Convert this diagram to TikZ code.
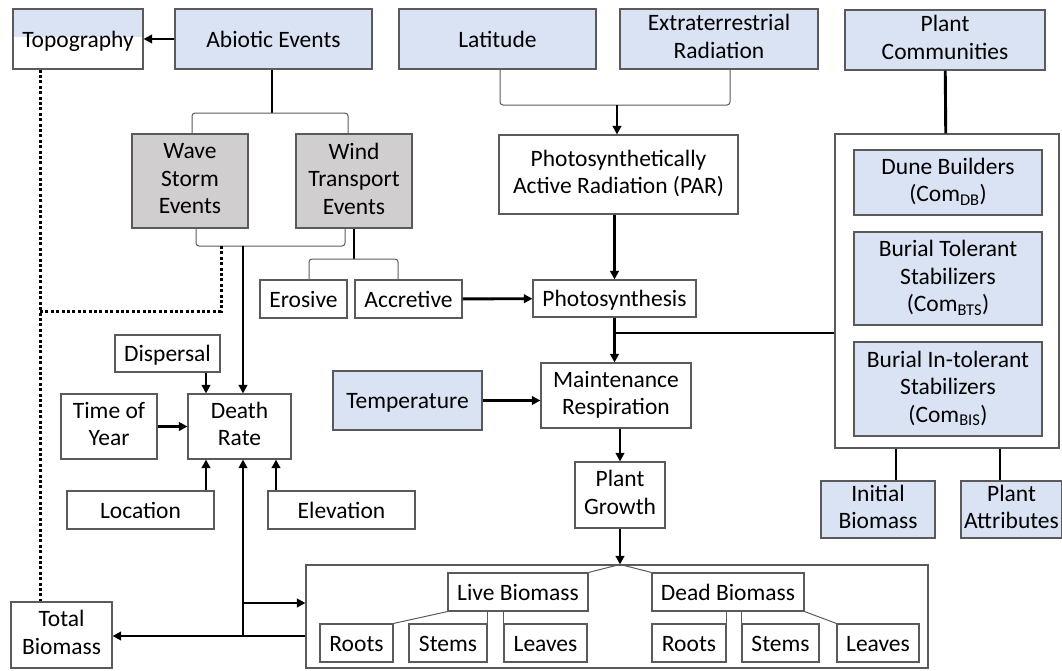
\documentclass[tikz,border=0pt]{standalone}
\usepackage{fontspec}
\setmainfont{Carlito}
\usetikzlibrary{arrows.meta}
\definecolor{boxblue}{HTML}{DAE3F3}
\definecolor{boxgray}{HTML}{D0CECE}
\definecolor{edge}{HTML}{5A5A5A}
\newcommand\bstrut{\rule[-5pt]{0pt}{26pt}}
\tikzset{
  box/.style={draw=edge, line width=1.1pt, align=center, inner sep=0pt,
    font=\fontsize{23.5}{27.5}\selectfont,
    execute at begin node=\bstrut, execute at end node=\bstrut},
  bluebox/.style={box, fill=boxblue},
  graybox/.style={box, fill=boxgray},
  link/.style={line width=2.9pt},
  arr/.style={line width=2.9pt, ->},
  thinl/.style={draw=edge, line width=1pt, rounded corners=3pt},
  dots/.style={line width=3pt, dash pattern=on 3pt off 2.4pt},
  >={Triangle[length=8.5pt,width=8.5pt]}
}
\begin{document}
\begin{tikzpicture}[x=1pt,y=-1pt]
\useasboundingbox (0,0) rectangle (1062,670);
\fill[boxblue] (13,9) rectangle (143,37);
\node[box, minimum width=130, minimum height=60] (topo) at (78,39) {Topography};
\node[bluebox, minimum width=197, minimum height=60] (abio) at (273.5,39) {Abiotic Events};
\node[bluebox, minimum width=197, minimum height=60] (lat) at (497.5,39) {Latitude};
\node[bluebox, minimum width=198, minimum height=60] (extra) at (719,39) {Extraterrestrial\\Radiation};
\node[bluebox, minimum width=200, minimum height=60] (plcom) at (945,40) {Plant\\Communities};
\node[graybox, minimum width=116, minimum height=94] (wave) at (190,181) {Wave\\Storm\\Events};
\node[graybox, minimum width=116, minimum height=94] (wind) at (354,181) {Wind\\Transport\\Events};
\node[box, minimum width=87, minimum height=38] (eros) at (303.5,299) {Erosive};
\node[box, minimum width=107, minimum height=38] (accr) at (408.5,299) {Accretive};
\node[box, minimum width=239, minimum height=79] (par) at (618.5,174.5) {Photosynthetically\\Active Radiation (PAR)};
\node[box, minimum width=163, minimum height=37] (phot) at (614.5,298.5) {Photosynthesis};
\node[box, minimum width=150, minimum height=65] (maint) at (616,395.5) {Maintenance\\Respiration};
\node[bluebox, minimum width=149, minimum height=59] (temp) at (407.5,400.5) {Temperature};
\node[box, minimum width=90, minimum height=66] (grow) at (620,495) {Plant\\Growth};
\node[box, minimum width=105, minimum height=37] (disp) at (167.5,353.5) {Dispersal};
\node[box, minimum width=96, minimum height=65] (time) at (109,426.5) {Time of\\Year};
\node[box, minimum width=103, minimum height=65] (death) at (239.5,426.5) {Death\\Rate};
\node[box, minimum width=147, minimum height=38] (loc) at (140.5,510) {Location};
\node[box, minimum width=147, minimum height=38] (elev) at (341.5,510) {Elevation};
\node[box, minimum width=101, minimum height=66] (total) at (61.5,635) {Total\\Biomass};
\node[box, minimum width=622, minimum height=103] (bio) at (617,616.5) {};
\node[box, minimum width=140, minimum height=38] (live) at (518,592) {Live Biomass};
\node[box, minimum width=152, minimum height=38] (dead) at (728,592) {Dead Biomass};
\node[box, minimum width=73, minimum height=38] (lroot) at (356.5,643) {Roots};
\node[box, minimum width=78, minimum height=38] (lstem) at (448,643) {Stems};
\node[box, minimum width=83, minimum height=38] (lleaf) at (545.5,643) {Leaves};
\node[box, minimum width=74, minimum height=38] (droot) at (689,643) {Roots};
\node[box, minimum width=77, minimum height=38] (dstem) at (780.5,643) {Stems};
\node[box, minimum width=82, minimum height=38] (dleaf) at (878,643) {Leaves};
\node[box, minimum width=224, minimum height=314] (comm) at (947,291) {};
\node[bluebox, minimum width=188, minimum height=65] (dune) at (948,182.5) {Dune Builders\\(Com\textsubscript{DB})};
\node[bluebox, minimum width=188, minimum height=93] (bts) at (948,278.5) {Burial Tolerant\\Stabilizers\\(Com\textsubscript{BTS})};
\node[bluebox, minimum width=188, minimum height=94] (bis) at (948,389) {Burial In-tolerant\\Stabilizers\\(Com\textsubscript{BIS})};
\node[bluebox, minimum width=114, minimum height=57] (init) at (878,509.5) {Initial\\Biomass};
\node[bluebox, minimum width=101, minimum height=57] (attr) at (1011.5,509.5) {Plant\\Attributes};
\coordinate (abrk) at (272,113);
\coordinate (wbrk) at (243,246);
\coordinate (tbrk) at (354,259);
\coordinate (lbrk) at (617,105);
\coordinate (dl) at (40,311);
\coordinate (cj) at (614,333);
\coordinate (bj) at (243,636);
\coordinate (bk) at (243,603);
\draw[arr] (abio) -- (topo);
\draw[link] (abio.south -| abrk) -- (abrk);
\draw[thinl] ([xshift=2]wave.north) |- ([xshift=-6]wind.north |- abrk) -- ([xshift=-6]wind.north);
\draw[thinl] ([xshift=6]wave.south) |- ([xshift=-9]wind.south |- wbrk) -- ([xshift=-9]wind.south);
\draw[arr] (wbrk) -- (wbrk |- death.north);
\draw[dots] (dl |- topo.south) -- (dl |- total.north);
\draw[dots] (dl) -| ([xshift=-22]wbrk);
\draw[link] (wind.south) -- (tbrk);
\draw[thinl] ([xshift=5.5]eros.north) |- ([xshift=-10.5]accr.north |- tbrk) -- ([xshift=-10.5]accr.north);
\draw[arr] (accr) -- (phot);
\draw[thinl] ([xshift=2.5]lat.south) |- ([xshift=11]extra.south |- lbrk) -- ([xshift=11]extra.south);
\draw[arr] (lbrk) -- (lbrk |- par.north);
\draw[arr] (phot.north |- par.south) -- (phot.north);
\draw[arr] (phot.south) -- (phot.south |- maint.north);
\draw[link] (cj) -- (cj -| comm.west);
\draw[arr] (temp.east) -- (temp.east -| maint.west);
\draw[arr] (maint.south -| grow.north) -- (grow.north);
\draw[arr] (grow.south) -- (grow.south |- bio.north);
\draw[thinl] (live.north east) -- (grow.south |- bio.north) -- (dead.north west);
\draw[thinl] (live.south west) -- (lroot.north east);
\draw[thinl] (lstem.north east |- live.south) -- (lstem.north east);
\draw[thinl] (lleaf.north west |- live.south) -- (lleaf.north west);
\draw[thinl] (droot.north east |- dead.south) -- (droot.north east);
\draw[thinl] (dstem.north west |- dead.south) -- (dstem.north west);
\draw[thinl] (dead.south east) -- (dleaf.north west);
\draw[arr] ([xshift=-33.5]death.north |- disp.south) -- ([xshift=-33.5]death.north);
\draw[arr] (time) -- (death);
\draw[arr] ([xshift=-33.5]death.south |- loc.north) -- ([xshift=-33.5]death.south);
\draw[arr] ([xshift=36.5]death.south |- elev.north) -- ([xshift=36.5]death.south);
\draw[arr] (bj -| bio.west) -- (bj -| total.east);
\draw[arr] (bj) -- (bj |- death.south);
\draw[arr] (bk) -- (bk -| bio.west);
\draw[link] (plcom) -- (comm);
\draw[link] ([xshift=18]init.north |- comm.south) -- ([xshift=18]init.north);
\draw[link] ([xshift=-11.5]attr.north |- comm.south) -- ([xshift=-11.5]attr.north);
\end{tikzpicture}
\end{document}
